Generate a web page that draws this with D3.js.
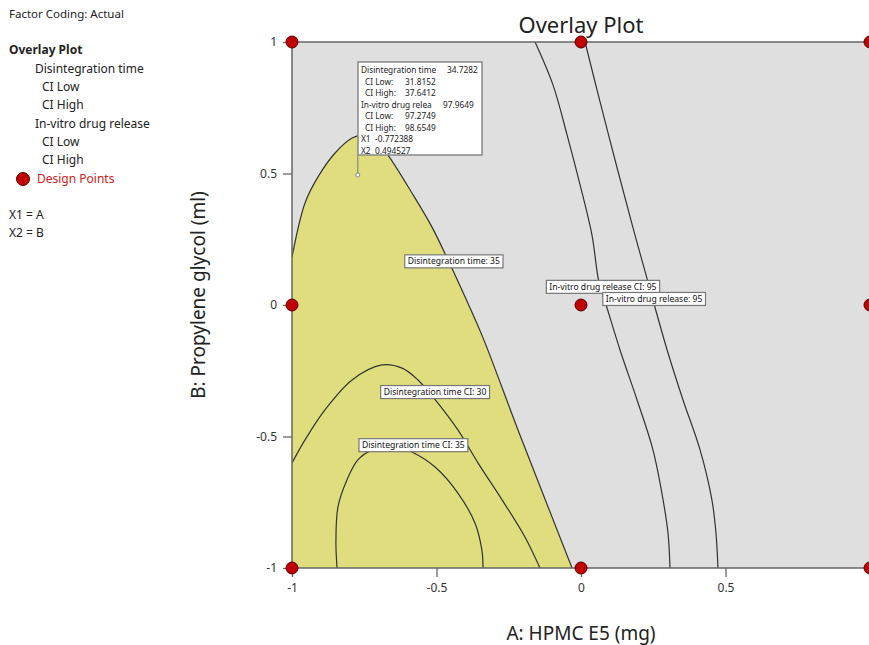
<!DOCTYPE html>
<html><head><meta charset="utf-8">
<script src="https://cdn.jsdelivr.net/npm/d3@7"></script>
<style>
html,body{margin:0;padding:0;background:#fff;overflow:hidden}
text{font-family:"Noto Sans","Open Sans",sans-serif}
</style></head>
<body><svg id="c" width="869" height="645"></svg>
<script>
// ---- data (coded factor units) ----
const xTicks = [-1, -0.5, 0, 0.5];
const yTicks = [-1, -0.5, 0, 0.5, 1];
const designX = [-1, 0, 1, -1, 0, 1, -1, 0, 1];
const designY = [1, 1, 1, 0, 0, 0, -1, -1, -1];

// Disintegration time = 35 contour (boundary of yellow region)
const dtMeanX = [-1.0, -0.955, -0.910, -0.851, -0.792, -0.760, -0.723, -0.696, -0.668, -0.585, -0.516, -0.460, -0.401, -0.339, -0.218, -0.031];
const dtMeanY = [0.182, 0.388, 0.487, 0.578, 0.635, 0.645, 0.627, 0.605, 0.570, 0.426, 0.297, 0.171, 0.030, -0.125, -0.475, -1.0];
// Disintegration time CI: 30
const dtCI30X = [-1.0, -0.955, -0.886, -0.792, -0.689, -0.619, -0.564, -0.495, -0.426, -0.356, -0.273, -0.194, -0.142];
const dtCI30Y = [-0.601, -0.513, -0.399, -0.285, -0.228, -0.240, -0.285, -0.373, -0.475, -0.601, -0.741, -0.882, -1.0];
// Disintegration time CI: 35
const dtCI35X = [-0.844, -0.848, -0.841, -0.810, -0.772, -0.723, -0.654, -0.585, -0.505, -0.426, -0.367, -0.343, -0.339];
const dtCI35Y = [-1.0, -0.905, -0.768, -0.665, -0.589, -0.551, -0.532, -0.559, -0.616, -0.715, -0.829, -0.932, -1.0];
// In-vitro drug release CI: 95
const drCI95X = [-0.159, -0.097, -0.048, -0.003, 0.038, 0.062, 0.087, 0.135, 0.194, 0.249, 0.284, 0.301, 0.308];
const drCI95Y = [1.0, 0.837, 0.646, 0.456, 0.266, 0.087, 0.0, -0.171, -0.361, -0.551, -0.741, -0.867, -1.0];
// In-vitro drug release: 95
const drMeanX = [0.014, 0.066, 0.125, 0.180, 0.232, 0.249, 0.298, 0.353, 0.412, 0.453, 0.467, 0.474];
const drMeanY = [1.0, 0.772, 0.521, 0.293, 0.087, 0.019, -0.171, -0.361, -0.551, -0.741, -0.867, -1.0];

const legendItems = ["Disintegration time", "CI Low", "CI High", "In-vitro drug release", "CI Low", "CI High"];
const tooltipLabels = ["Disintegration time", "CI Low:", "CI High:", "In-vitro drug relea", "CI Low:", "CI High:", "X1", "X2"];
const tooltipValues = ["34.7282", "31.8152", "37.6412", "97.9649", "97.2749", "98.6549", "-0.772388", "0.494527"];
const flagX = -0.772388, flagY = 0.494527;

// ---- layout ----
const svg = d3.select("#c");
const x = d3.scaleLinear().domain([-1, 1]).range([292, 870]);
const y = d3.scaleLinear().domain([-1, 1]).range([568, 42]);
const zip = (xs, ys) => xs.map((v, i) => [v, ys[i]]);
const line = d3.line().x(d => x(d[0])).y(d => y(d[1])).curve(d3.curveCatmullRom.alpha(0.5));

svg.append("defs").append("clipPath").attr("id", "pc")
  .append("rect").attr("x", x(-1)).attr("y", y(1)).attr("width", x(1) - x(-1)).attr("height", y(-1) - y(1));

svg.append("rect").attr("x", x(-1)).attr("y", y(1)).attr("width", x(1) - x(-1)).attr("height", y(-1) - y(1))
  .attr("fill", "#dfdfdf");

const g = svg.append("g").attr("clip-path", "url(#pc)");
const meanPts = zip(dtMeanX, dtMeanY);
const regionPath = line(meanPts) + "L" + x(-1) + "," + y(-1) + "Z";
g.append("path").attr("d", regionPath).attr("fill", "#dfdd7e").attr("stroke", "none");

const curveStyle = p => p.attr("fill", "none").attr("stroke", "#333").attr("stroke-width", 1.2);
[meanPts, zip(dtCI30X, dtCI30Y), zip(dtCI35X, dtCI35Y), zip(drCI95X, drCI95Y), zip(drMeanX, drMeanY)]
  .forEach(pts => g.append("path").attr("d", line(pts)).call(curveStyle));

// frame lines
svg.append("line").attr("x1", x(-1)).attr("x2", x(1)).attr("y1", y(1)).attr("y2", y(1)).attr("stroke", "#666").attr("stroke-width", 1.5);
svg.append("line").attr("x1", x(-1)).attr("x2", x(1)).attr("y1", y(-1)).attr("y2", y(-1)).attr("stroke", "#666").attr("stroke-width", 1.5);
svg.append("line").attr("x1", x(-1)).attr("x2", x(-1)).attr("y1", y(1)).attr("y2", y(-1)).attr("stroke", "#666").attr("stroke-width", 1.5);

// axes
const fmt = d => String(d);
const xAxis = svg.append("g").attr("transform", `translate(0,${y(-1)})`)
  .call(d3.axisBottom(x).tickValues(xTicks).tickSize(9).tickPadding(6).tickFormat(fmt));
const yAxis = svg.append("g").attr("transform", `translate(${x(-1)},0)`)
  .call(d3.axisLeft(y).tickValues(yTicks).tickSize(9).tickPadding(6).tickFormat(fmt));
[xAxis, yAxis].forEach(a => {
  a.select(".domain").remove();
  a.selectAll(".tick line").attr("stroke", "#666").attr("stroke-width", 1.3);
  a.selectAll(".tick text").attr("fill", "#333").style("font-size", "12px").style("font-family", "'Noto Sans',sans-serif");
});
// tick mark at x = 1 (label falls outside the window)
xAxis.append("line").attr("x1", x(1)).attr("x2", x(1)).attr("y1", 0).attr("y2", 9).attr("stroke", "#666").attr("stroke-width", 1.3);

// contour labels
function boxLabel(cx, cy, txt) {
  const t = svg.append("text").attr("x", cx).attr("y", cy).attr("text-anchor", "middle")
    .attr("dominant-baseline", "central").style("font-size", "8.6px").attr("fill", "#111").text(txt);
  const bb = t.node().getBBox();
  svg.insert("rect", () => t.node()).attr("x", bb.x - 3).attr("y", bb.y - 0.5).attr("width", bb.width + 6).attr("height", bb.height + 1)
    .attr("fill", "#fff").attr("stroke", "#777").attr("stroke-width", 1.2);
}
boxLabel(x(-0.44), y(0.166), "Disintegration time: 35");
boxLabel(x(0.076), y(0.069), "In-vitro drug release CI: 95");
boxLabel(x(0.253), y(0.023), "In-vitro drug release: 95");
boxLabel(x(-0.505), y(-0.331), "Disintegration time CI: 30");
boxLabel(x(-0.58), y(-0.533), "Disintegration time CI: 35");

// flag (tooltip)
svg.append("line").attr("x1", x(flagX)).attr("x2", x(flagX)).attr("y1", y(flagY)).attr("y2", 155).attr("stroke", "#888").attr("stroke-width", 1.2);
svg.append("circle").attr("cx", x(flagX)).attr("cy", y(flagY)).attr("r", 2).attr("fill", "#fff").attr("stroke", "#888");
svg.append("rect").attr("x", 358).attr("y", 62).attr("width", 124).attr("height", 93).attr("fill", "#fff").attr("stroke", "#888").attr("stroke-width", 1.5);
const tt = svg.append("g").style("font-size", "8.3px").attr("fill", "#222");
const valPos = [447, 405, 405, 443, 405, 405, 375, 375];
tooltipLabels.forEach((l, i) => {
  const indent = (l.startsWith("CI")) ? 4 : 0;
  tt.append("text").attr("x", 361 + indent).attr("y", 73 + i * 11.5).text(l);
  tt.append("text").attr("x", valPos[i]).attr("y", 73 + i * 11.5).text(tooltipValues[i]);
});

// design points
svg.append("g").selectAll("circle").data(designX.map((v, i) => [v, designY[i]])).join("circle")
  .attr("cx", d => x(d[0])).attr("cy", d => y(d[1])).attr("r", 6)
  .attr("fill", "#c00000").attr("stroke", "#5a0000").attr("stroke-width", 1);

// titles
svg.append("text").attr("x", 581).attr("y", 33).attr("text-anchor", "middle").style("font-size", "22px").attr("fill", "#222").text("Overlay Plot");
svg.append("text").attr("x", 581).attr("y", 640).attr("text-anchor", "middle").style("font-size", "19px").attr("fill", "#222").text("A: HPMC E5 (mg)");
svg.append("text").attr("transform", "translate(205,295) rotate(-90)").attr("text-anchor", "middle").style("font-size", "19px").attr("fill", "#222").text("B: Propylene glycol (ml)");

// left legend
const lg = svg.append("g").style("font-size", "12px").attr("fill", "#222");
lg.append("text").attr("x", 9).attr("y", 18).style("font-size", "11.5px").text("Factor Coding: Actual");
lg.append("text").attr("x", 9).attr("y", 54).style("font-weight", "bold").text("Overlay Plot");
const lx = [35, 42, 42, 35, 42, 42];
legendItems.forEach((t, i) => lg.append("text").attr("x", lx[i]).attr("y", 73 + i * 18.2).text(t));
lg.append("circle").attr("cx", 23).attr("cy", 179).attr("r", 6.5).attr("fill", "#c00000").attr("stroke", "#5a0000");
lg.append("text").attr("x", 37).attr("y", 183).attr("fill", "#d02020").text("Design Points");
lg.append("text").attr("x", 9).attr("y", 219).text("X1 = A");
lg.append("text").attr("x", 9).attr("y", 237).text("X2 = B");
</script></body></html>
